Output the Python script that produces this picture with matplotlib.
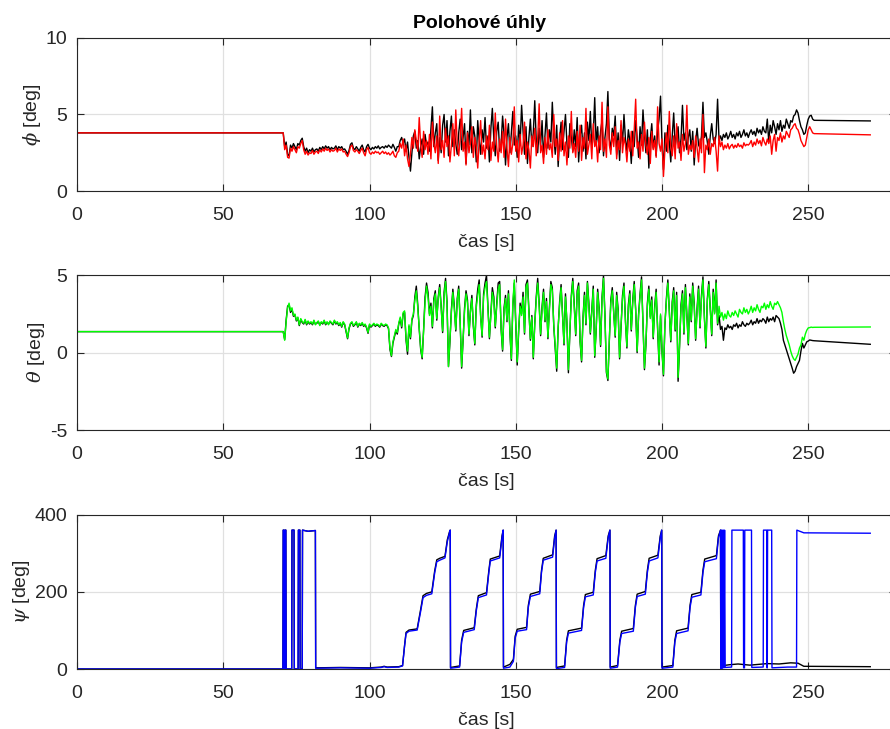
import numpy as np
import matplotlib
matplotlib.use("Agg")
import matplotlib.pyplot as plt

plt.rcParams['font.family'] = ['Liberation Sans', 'DejaVu Sans']
plt.rcParams['mathtext.fontset'] = 'dejavuserif'
plt.rcParams['axes.unicode_minus'] = False

# ---------------------------------------------------------------- data
T_START = 70.5      # first sample of the manoeuvre segment
DT = 0.5            # sample step of the manoeuvre segment [s]
T_END = 271.2       # last recorded time

# roll angle phi [deg] - black (reference) and red (measured)
phi_hold = 3.80
phi_black_tail = 4.58
phi_red_tail = 3.67
phi_black = [
    3.80, 2.9, 3.2, 2.4, 2.3, 3.0, 2.8, 3.1, 2.9, 2.7, 3.1, 3.0, 3.3, 3.45, 2.9, 2.6, 2.8, 2.5, 2.7,
    2.6, 2.8, 2.55, 2.7, 2.75, 2.6, 2.85, 2.7, 2.9, 2.75, 2.95, 2.8, 2.9, 2.7, 2.85, 2.75, 2.8, 2.95, 2.7, 2.9,
    2.8, 2.9, 2.7, 2.75, 2.6, 2.4, 2.65, 3.05, 3.15, 2.8, 2.7, 2.9, 2.75, 2.6, 2.85, 3.0, 2.7, 2.55, 2.9, 3.05,
    2.8, 2.7, 2.85, 2.75, 2.9, 2.8, 2.95, 2.75, 2.85, 2.9, 2.8, 2.95, 2.85, 3.0, 2.9, 2.8, 3.05, 2.85, 2.6, 2.9,
    2.9, 3.3, 3.5, 3.1, 3.4, 2.6, 3.2, 2.2, 1.3, 2.5, 3.6, 3.9, 2.8, 3.3, 2.1, 2.9, 3.4, 2.4, 3.7, 3.0,
    3.2, 2.6, 4.1, 5.5, 2.9, 3.8, 4.4, 2.0, 3.5, 2.5, 4.3, 5.0, 3.2, 4.6, 2.3, 3.9, 4.9, 2.9, 4.0, 3.1,
    2.4, 3.8, 4.7, 2.7, 3.5, 4.4, 1.8, 3.9, 3.0, 5.3, 2.5, 4.2, 3.6, 1.9, 4.6, 3.3, 2.4, 4.0, 3.2, 4.8,
    2.8, 3.6, 1.9, 4.1, 5.4, 3.4, 2.3, 3.9, 4.5, 2.6, 3.1, 4.9, 3.7, 1.7, 3.5, 4.4, 2.5, 3.8, 5.2, 3.0,
    3.6, 2.2, 4.3, 3.1, 5.6, 3.9, 2.4, 4.2, 1.8, 3.5, 4.7, 2.9, 3.8, 5.9, 3.3, 2.5, 4.1, 3.0, 4.6, 2.2,
    3.7, 5.1, 2.8, 4.0, 3.2, 5.8, 3.6, 2.4, 4.3, 1.6, 3.4, 4.5, 2.7, 3.9, 5.0, 3.1, 2.2, 4.4, 3.5, 2.6,
    4.0, 2.9, 4.8, 1.9, 3.6, 4.3, 2.6, 3.8, 2.1, 4.5, 3.3, 5.2, 2.8, 3.7, 6.1, 3.0, 4.2, 2.5, 3.9, 4.6,
    2.3, 3.5, 4.4, 6.5, 3.4, 2.7, 4.1, 3.6, 4.9, 2.4, 3.8, 2.0, 4.3, 3.1, 5.0, 3.4, 2.6, 4.0, 3.3, 1.8,
    3.9, 2.9, 4.6, 3.5, 2.2, 4.2, 3.0, 5.3, 3.7, 2.5, 4.0, 1.5, 3.4, 4.4, 2.8, 3.6, 2.3, 3.9, 4.7, 6.2,
    3.1, 1.4, 3.8, 2.6, 4.3, 3.2, 1.9, 3.6, 5.1, 2.9, 3.7, 4.2, 2.5, 3.4, 5.6, 3.3, 3.8, 2.7, 3.5, 4.0,
    2.6, 3.9, 1.7, 3.3, 4.1, 3.0, 2.8, 3.6, 5.8, 3.5, 3.8, 3.2, 2.4, 3.6, 4.4, 3.4, 3.1, 3.7, 6.0, 3.3,
    3.6, 3.3, 3.7, 3.5, 3.8, 3.4, 3.6, 3.9, 3.5, 3.7, 3.4, 3.8, 3.6, 3.9, 3.5, 3.7, 4.0, 3.6, 3.8, 3.5,
    3.8, 4.0, 3.7, 3.9, 3.6, 4.1, 3.8, 4.0, 3.7, 4.2, 3.9, 3.8, 4.7, 3.2, 4.3, 3.8, 4.6, 4.2, 3.7, 4.4,
    4.0, 4.6, 3.9, 4.3, 4.1, 4.7, 4.4, 4.1, 4.6, 4.5, 4.9, 5.0, 5.3, 5.1, 4.6, 4.2, 4.0, 3.7, 3.8, 4.3,
    4.7, 4.9, 4.95, 4.7, 4.62,
]
phi_red = [
    3.80, 2.7, 3.0, 2.2, 2.15, 2.8, 2.6, 2.9, 2.7, 2.5, 2.9, 2.8, 3.1, 3.3, 2.7, 2.4, 2.6, 2.35, 2.5,
    2.45, 2.65, 2.4, 2.55, 2.6, 2.45, 2.7, 2.55, 2.75, 2.6, 2.8, 2.65, 2.75, 2.55, 2.7, 2.6, 2.65, 2.8, 2.55, 2.75,
    2.65, 2.75, 2.55, 2.6, 2.4, 2.25, 2.5, 2.9, 3.0, 2.65, 2.55, 2.7, 2.6, 2.45, 2.65, 2.8, 2.5, 2.3, 2.7, 2.85,
    2.5, 2.4, 2.55, 2.45, 2.6, 2.5, 2.55, 2.4, 2.5, 2.6, 2.45, 2.55, 2.4, 2.5, 2.35, 2.45, 2.6, 2.3, 2.2, 2.5,
    2.6, 3.1, 2.8, 3.4, 2.3, 3.0, 2.1, 1.6, 2.4, 3.5, 2.8, 4.0, 3.3, 2.6, 4.8, 3.0, 2.2, 3.9, 2.7, 3.3,
    2.4, 3.7, 2.1, 4.5, 3.1, 2.5, 3.6, 1.8, 4.9, 2.7, 3.3, 2.2, 4.1, 2.9, 3.6, 1.9, 3.0, 4.4, 2.3, 5.3,
    3.0, 2.3, 3.4, 5.4, 2.6, 3.2, 1.7, 3.8, 2.5, 3.1, 4.2, 2.2, 3.5, 2.9, 1.5, 3.3, 4.6, 2.4, 3.0, 2.1,
    3.6, 2.7, 4.3, 2.0, 3.2, 2.6, 5.1, 2.9, 1.9, 3.4, 2.5, 3.9, 2.2, 4.7, 2.8, 1.6, 3.5, 2.4, 3.1, 5.5,
    2.6, 3.3, 1.9, 3.7, 2.4, 3.0, 4.5, 2.1, 3.2, 2.7, 1.5, 3.6, 2.9, 4.1, 2.3, 3.4, 5.7, 2.5, 3.0, 1.8,
    3.5, 2.4, 4.0, 2.7, 3.1, 2.2, 5.0, 2.9, 3.4, 2.0, 3.8, 2.6, 4.6, 2.3, 3.2, 1.7, 3.6, 2.8, 5.2, 2.5,
    3.1, 2.2, 3.9, 2.6, 4.3, 2.0, 3.5, 2.8, 5.4, 2.4, 3.0, 3.7, 2.1, 4.4, 2.9, 3.3, 1.9, 3.6, 2.7, 5.8,
    2.6, 3.4, 2.2, 5.5, 3.0, 2.4, 3.8, 2.9, 4.2, 2.1, 3.3, 2.7, 4.6, 2.5, 3.5, 3.0, 1.9, 3.4, 2.6, 3.9,
    2.3, 4.0, 6.0, 2.8, 3.2, 2.1, 3.7, 2.6, 4.5, 3.0, 2.4, 3.5, 1.8, 3.9, 2.7, 3.3, 2.2, 5.5, 3.1, 2.6,
    3.4, 0.95, 2.7, 3.8, 2.5, 5.2, 2.9, 2.3, 3.6, 2.1, 4.4, 2.8, 3.2, 2.0, 3.7, 2.6, 3.1, 5.6, 2.4, 3.0,
    2.7, 3.3, 2.2, 3.6, 2.8, 1.9, 3.4, 2.5, 5.0, 1.2, 3.0, 2.7, 3.4, 2.4, 3.1, 2.9, 3.5, 2.6, 1.3, 3.6,
    2.9, 3.2, 2.7, 3.0, 2.8, 3.1, 2.75, 2.95, 3.05, 2.8, 3.0, 2.85, 3.1, 2.9, 3.0, 2.8, 3.15, 2.95, 3.05, 3.0,
    3.1, 3.3, 2.9, 3.2, 3.0, 3.4, 3.1, 3.3, 2.95, 3.5, 3.2, 3.0, 3.4, 3.1, 3.6, 2.4, 3.3, 3.7, 2.6, 3.5,
    3.3, 3.8, 3.2, 3.6, 3.4, 3.9, 3.7, 3.5, 4.0, 4.1, 4.3, 4.4, 4.1, 4.0, 3.7, 3.3, 3.1, 2.9, 3.0, 3.5,
    4.0, 4.2, 4.0, 3.8, 3.75,
]

# pitch angle theta [deg] - black (reference) and green (measured)
theta_hold = 1.36
theta_black_tail = 0.54
theta_green_tail = 1.66
theta_black = [
    1.36, 0.85, 2.1, 3.0, 3.1, 2.6, 2.8, 2.35, 2.45, 2.05, 2.25, 1.75, 2.15, 1.95, 1.85, 2.1, 1.8, 2.0, 1.85,
    1.95, 1.8, 2.05, 1.85, 1.9, 2.0, 1.8, 1.95, 1.85, 2.05, 1.8, 1.95, 1.85, 2.0, 1.9, 1.8, 2.05, 1.85, 1.95, 1.75,
    1.9, 1.65, 1.95, 1.8, 1.35, 0.9, 1.55, 1.85, 1.95, 1.7, 1.8, 1.95, 1.65, 1.85, 1.75, 1.9, 1.7, 1.8, 1.6, 1.25,
    1.8, 1.65, 1.75, 1.85, 1.7, 1.8, 1.75, 1.65, 1.85, 1.75, 1.7, 1.8, 1.75, 1.55, 0.2, -0.25, 0.6, 1.0, 1.4, 1.2,
    1.85, 2.2, 1.6, 2.5, 2.6, 0.8, -0.1, 1.7, 0.9, 2.1, 2.4, 3.6, 4.3, 3.1, 1.5, 0.2, -0.4, 1.5, 3.6, 4.5,
    3.9, 2.5, 3.2, 1.6, 3.5, 4.0, 2.1, 3.6, 4.4, 3.0, 1.3, 3.9, 4.8, 3.3, -0.9, 0.7, 2.8, 4.1, 3.0, 1.4,
    3.5, 4.3, 1.9, -1.0, 0.8, 2.9, 4.0, 3.4, 1.1, 2.7, 3.7, 1.7, 0.5, 3.1, 4.1, 4.7, 2.4, 1.0, 3.8, 4.5,
    5.0, 3.0, 0.9, 2.6, 4.2, 3.6, 1.6, 3.2, 4.5, 4.6, 1.5, 0.1, 2.9, 3.7, 2.0, 4.0, 1.3, -0.5, 3.0, 4.5,
    1.8, -0.8, 1.4, 3.2, 2.5, 3.9, 1.2, 4.4, 4.7, 2.7, 0.8, 2.4, -0.4, 1.9, 3.6, 4.8, 3.2, 1.1, 3.0, 4.1,
    2.0, 3.5, 0.9, 2.9, 4.6, 4.2, 1.7, 0.2, -1.2, 1.6, 3.3, 4.4, 2.5, 0.5, 3.8, 1.9, -1.3, 1.3, 3.7, 4.8,
    3.1, 1.1, 4.0, 4.5, 0.7, -0.6, 2.3, 3.9, 1.8, 4.6, 3.2, 1.2, 2.8, 4.3, -0.3, 1.5, 4.1, 2.9, 0.4, 3.6,
    5.0, 2.4, -1.3, -1.8, 0.8, 3.4, 4.2, 2.6, 1.0, 3.9, 2.8, -0.4, 1.7, 3.7, 4.5, 2.1, 0.3, 3.1, 4.0, 1.4,
    3.4, 4.6, 2.8, 0.0, 2.5, 3.8, 4.9, 1.8, -1.1, 0.5, 3.2, 4.3, 2.3, 3.6, 0.9, 3.0, 4.1, 1.5, -0.8, 2.4,
    0.1, -1.5, 1.8, 3.5, 4.7, 2.7, 0.7, 3.3, 4.2, 1.4, 3.9, -1.85, 0.4, 3.1, 4.0, 1.2, 4.4, 2.5, 0.5, 3.8,
    2.0, 4.5, 3.2, 0.8, 2.9, 4.3, 1.6, 3.7, 4.9, 2.3, 0.3, 3.5, 4.6, 2.9, 1.1, 4.1, 2.6, 4.7, 1.8, 2.4,
    1.5, 1.7, 0.8, 1.6, 1.5, 1.8, 1.6, 1.7, 1.5, 1.8, 1.7, 1.9, 1.6, 1.8, 1.7, 2.0, 1.8, 1.7, 1.9, 1.8,
    1.9, 2.1, 1.8, 2.0, 1.9, 2.2, 1.9, 2.1, 2.0, 2.2, 2.1, 1.9, 2.3, 2.0, 2.2, 2.1, 2.3, 2.0, 2.4, 2.3,
    2.2, 1.9, 1.5, 0.8, 0.5, 0.2, -0.1, -0.4, -0.7, -1.0, -1.33, -1.2, -0.9, -0.7, -0.5, 0.1, 0.6, 0.3, 0.5, 0.7,
    0.75, 0.82, 0.8, 0.78, 0.77,
]
theta_green = [
    1.36, 0.8, 2.0, 2.9, 3.2, 2.7, 2.9, 2.4, 2.5, 2.1, 2.3, 1.8, 2.2, 2.0, 1.9, 2.15, 1.85, 2.05, 1.9,
    2.0, 1.85, 2.1, 1.8, 1.95, 2.05, 1.75, 2.0, 1.9, 2.1, 1.85, 2.0, 1.8, 2.05, 1.95, 1.85, 2.1, 1.9, 2.0, 1.8,
    1.95, 1.7, 2.0, 1.85, 1.4, 0.95, 1.6, 1.9, 2.0, 1.75, 1.85, 2.0, 1.7, 1.9, 1.8, 1.95, 1.75, 1.85, 1.65, 1.3,
    1.85, 1.7, 1.8, 1.9, 1.75, 1.85, 1.8, 1.7, 1.9, 1.8, 1.75, 1.85, 1.8, 1.6, 0.3, -0.2, 0.7, 1.1, 1.5, 1.3,
    1.9, 2.3, 1.7, 2.6, 2.7, 0.9, 0.1, 1.8, 1.0, 2.2, 2.5, 3.4, 4.0, 2.9, 1.6, 0.3, -0.3, 1.4, 3.3, 4.3,
    3.6, 2.4, 3.0, 1.7, 3.3, 3.8, 2.2, 3.5, 4.2, 2.9, 1.4, 3.7, 4.6, 3.1, -0.9, 0.8, 2.6, 3.9, 2.8, 1.5,
    3.4, 4.1, 2.0, -0.9, 0.9, 2.7, 3.8, 3.2, 1.2, 2.6, 3.5, 1.8, 0.6, 2.9, 3.7, 4.4, 2.3, 1.1, 3.6, 4.2,
    4.6, 2.8, 1.0, 2.5, 3.9, 3.4, 1.7, 3.0, 4.1, 4.4, 1.6, 0.2, 2.7, 3.5, 2.1, 3.8, 1.4, -0.4, 3.2, 4.7,
    1.9, -0.6, 1.5, 3.0, 2.4, 3.6, 1.3, 4.2, 4.5, 2.6, 0.9, 2.3, -0.3, 1.8, 3.4, 4.5, 3.0, 1.2, 2.8, 3.9,
    2.1, 3.3, 1.0, 2.7, 4.4, 4.0, 1.8, 0.4, -1.0, 1.7, 3.1, 4.2, 2.4, 0.6, 3.6, 2.0, -1.1, 1.4, 3.5, 4.6,
    2.9, 1.2, 3.8, 4.3, 0.8, -0.5, 2.2, 3.7, 1.9, 4.5, 3.0, 1.3, 2.6, 4.1, -0.2, 1.6, 3.9, 2.7, 0.5, 3.4,
    4.8, 2.3, -1.2, -1.7, 0.9, 3.2, 4.0, 2.5, 1.1, 3.7, 2.6, -0.3, 1.8, 3.5, 4.3, 2.0, 0.4, 2.9, 3.8, 1.5,
    3.2, 4.4, 2.7, 0.1, 2.4, 3.6, 4.7, 1.9, -1.0, 0.6, 3.0, 4.1, 2.2, 3.4, 1.0, 2.8, 3.9, 1.6, -0.6, 2.5,
    0.2, -1.4, 1.9, 3.3, 4.5, 2.6, 0.8, 3.1, 4.0, 1.5, 3.7, -1.6, 0.5, 2.9, 3.8, 1.3, 4.2, 2.4, 0.6, 3.6,
    2.1, 4.3, 3.0, 0.9, 2.7, 4.1, 1.7, 3.5, 4.7, 2.2, 0.4, 3.3, 4.4, 2.8, 1.2, 3.9, 2.5, 4.5, 1.9, 3.0,
    2.3, 2.6, 2.1, 2.5, 2.2, 2.7, 2.4, 2.3, 2.6, 2.4, 2.7, 2.5, 2.3, 2.8, 2.6, 2.5, 2.9, 2.6, 2.8, 2.5,
    2.7, 3.0, 2.6, 2.9, 2.7, 3.1, 2.8, 2.6, 3.0, 2.9, 3.2, 2.8, 3.1, 2.9, 3.3, 3.0, 2.8, 3.2, 3.1, 3.3,
    3.1, 2.9, 2.6, 2.0, 1.5, 1.1, 0.8, 0.5, 0.1, -0.2, -0.4, -0.5, -0.3, -0.1, 0.3, 0.5, 1.0, 0.8, 1.2, 1.45,
    1.6, 1.62, 1.65, 1.63, 1.64,
]

# yaw angle psi [deg], wrapped to 0..360 - breakpoints (time, value)
psi_blue_t = [
    0, 70.4, 70.5, 70.7, 70.8, 71.0, 71.1, 71.4, 71.5, 73.4, 73.5, 74.2, 74.3, 75.6, 75.7, 76.2, 76.3,
    77.0, 77.1, 79, 81.5, 81.6, 90, 100, 104, 105, 106, 110, 111.3, 112.0, 112.5, 113.5, 116.3, 117.5,
    118.3, 119.5, 121.3, 122.3, 123, 124, 125.8, 126.6, 127.4, 127.6, 127.7, 130.8, 131.5, 132.2, 135.8,
    136.5, 137.2, 140, 140.8, 141.3, 144.5, 145.3, 145.7, 145.8, 148, 149.2, 149.8, 150.5, 153.7, 154.3,
    155, 158.2, 158.8, 159.4, 162.6, 163.3, 163.8, 163.9, 166.7, 167.4, 168, 172.5, 173.2, 173.8, 176.5,
    177.2, 177.8, 180.8, 181.6, 182.2, 182.3, 184.8, 185.6, 186.2, 190.2, 190.9, 191.5, 194.3, 195, 195.6,
    198.6, 199.4, 199.9, 200, 203.7, 204.4, 205, 208.9, 209.6, 210.2, 213.3, 214, 214.6, 218.6, 219.3,
    220.0, 220.1, 220.3, 220.5, 220.6, 220.8, 221.0, 221.2, 221.4, 221.6, 223.8, 223.9, 227.8, 227.9,
    228.2, 228.3, 230.6, 230.7, 234.6, 234.7, 235.8, 235.9, 236.0, 236.1, 237.5, 237.6, 240, 243, 246.0,
    246.1, 248.5, 271.2,
]
psi_blue = [
    0, 0, 360, 360, 0, 0, 360, 360, 0, 0, 360, 360, 0, 0, 360, 360, 0,
    0, 360, 357, 359, 2, 3, 2, 4, 6, 4, 5, 8, 60, 92, 98, 101, 150,
    185, 191, 195, 250, 278, 282, 288, 330, 355, 360, 2, 5, 70, 95, 102,
    150, 185, 192, 250, 280, 288, 340, 360, 2, 5, 20, 80, 98, 102, 160,
    188, 195, 250, 282, 290, 340, 360, 1, 4, 70, 93, 100, 160, 187, 192,
    250, 280, 287, 340, 360, 2, 5, 70, 92, 98, 160, 188, 194, 250, 280,
    288, 340, 360, 2, 5, 70, 92, 99, 160, 186, 192, 250, 278, 286, 340,
    360, 1, 360, 2, 360, 3, 360, 3, 360, 4, 5, 360, 360, 3,
    3, 360, 360, 4, 5, 360, 360, 3, 3, 360, 360, 3, 4, 5, 5,
    360, 353, 352,
]
psi_black_t = [
    0, 70.4, 70.5, 70.7, 70.8, 71.0, 71.1, 71.4, 71.5, 73.4, 73.5, 74.2, 74.3, 75.6, 75.7, 76.2, 76.3,
    77.0, 77.1, 79, 81.5, 81.6, 90, 100, 104, 105, 106, 110, 111.3, 112.0, 112.5, 113.5, 116.3, 117.5,
    118.3, 119.5, 121.3, 122.3, 123, 124, 125.8, 126.6, 127.4, 127.6, 127.7, 130.8, 131.5, 132.2, 135.8,
    136.5, 137.2, 140, 140.8, 141.3, 144.5, 145.3, 145.7, 145.8, 148, 149.2, 149.8, 150.5, 153.7, 154.3,
    155, 158.2, 158.8, 159.4, 162.6, 163.3, 163.8, 163.9, 166.7, 167.4, 168, 172.5, 173.2, 173.8, 176.5,
    177.2, 177.8, 180.8, 181.6, 182.2, 182.3, 184.8, 185.6, 186.2, 190.2, 190.9, 191.5, 194.3, 195, 195.6,
    198.6, 199.4, 199.9, 200, 203.7, 204.4, 205, 208.9, 209.6, 210.2, 213.3, 214, 214.6, 218.6, 219.3,
    220.0, 220.1, 223, 226, 230, 233, 236, 240, 244, 246.5, 248.5, 271.2,
]
psi_black = [
    0, 0, 360, 360, 0, 0, 360, 360, 0, 0, 360, 360, 0, 0, 360, 360, 0,
    0, 360, 357, 359, 3, 4, 3, 5, 7, 5, 6, 9, 62, 95, 101, 104, 155,
    190, 196, 200, 255, 283, 287, 292, 335, 357, 360, 4, 8, 75, 100, 107,
    155, 190, 198, 255, 285, 293, 345, 360, 5, 12, 25, 85, 103, 108, 165,
    194, 201, 255, 287, 296, 345, 360, 4, 8, 75, 99, 106, 165, 193, 199,
    256, 286, 294, 345, 360, 5, 9, 75, 98, 105, 165, 194, 201, 256, 287,
    295, 345, 360, 5, 9, 75, 99, 106, 166, 193, 199, 256, 285, 294, 345,
    360, 8, 11, 13, 10, 12, 14, 13, 16, 15, 7, 6,
]

# axis settings
x_ticks = [0, 50, 100, 150, 200, 250]
x_limits = (0, 280)
phi_ticks, phi_limits = [0, 5, 10], (0, 10)
theta_ticks, theta_limits = [-5, 0, 5], (-5, 5)
psi_ticks, psi_limits = [0, 200, 400], (0, 400)


def with_hold(values, hold, tail):
    """Prepend the steady segment from t=0 and append the final sample."""
    t = T_START + DT * np.arange(len(values))
    t = np.concatenate(([0.0], t, [T_END]))
    v = np.concatenate(([hold], values, [tail]))
    return t, v


# ---------------------------------------------------------------- figure
W, H = 890, 729
fig = plt.figure(figsize=(W / 100, H / 100), dpi=100)

ink = '#262626'
fs = 14
left = 77 / W
width = (896 - 77) / W
axes_px = [(38, 191), (275.3, 430), (514.7, 669)]
axs = []
for top, bottom in axes_px:
    ax = fig.add_axes([left, 1 - bottom / H, width, (bottom - top) / H])
    axs.append(ax)

lw = 1.0
t, v = with_hold(phi_black, phi_hold, phi_black_tail)
axs[0].plot(t, v, color='k', lw=lw)
t, v = with_hold(phi_red, phi_hold, phi_red_tail)
axs[0].plot(t, v, color='#ff0000', lw=lw)

t, v = with_hold(theta_black, theta_hold, theta_black_tail)
axs[1].plot(t, v, color='k', lw=lw)
t, v = with_hold(theta_green, theta_hold, theta_green_tail)
axs[1].plot(t, v, color='#00ff00', lw=lw)

axs[2].plot(psi_black_t, psi_black, color='k', lw=lw)
axs[2].plot(psi_blue_t, psi_blue, color='#0000ff', lw=lw)

settings = [
    (phi_ticks, phi_limits, r'$\phi$ [deg]'),
    (theta_ticks, theta_limits, r'$\theta$ [deg]'),
    (psi_ticks, psi_limits, r'$\psi$ [deg]'),
]
for ax, (yt, yl, lab) in zip(axs, settings):
    ax.set_xlim(*x_limits)
    ax.set_ylim(*yl)
    ax.set_xticks(x_ticks)
    ax.set_yticks(yt)
    ax.grid(True, color='#e0e0e0', lw=0.9)
    ax.set_axisbelow(True)
    ax.tick_params(direction='in', top=True, right=True, length=5, width=0.8,
                   colors=ink, labelsize=fs)
    ax.tick_params(axis='x', pad=11.5)
    ax.tick_params(axis='y', pad=7)
    for s in ax.spines.values():
        s.set_color(ink)
        s.set_linewidth(0.8)
    ax.set_xlabel('čas [s]', fontsize=fs, color=ink, labelpad=7)
    ax.set_ylabel(lab, fontsize=fs, color=ink, labelpad=2)

axs[0].set_title('Polohové úhly', fontsize=fs, fontweight='bold', color='k',
                 pad=7, x=(480 - 77) / (896 - 77))

fig.savefig('out.png', dpi=100)
